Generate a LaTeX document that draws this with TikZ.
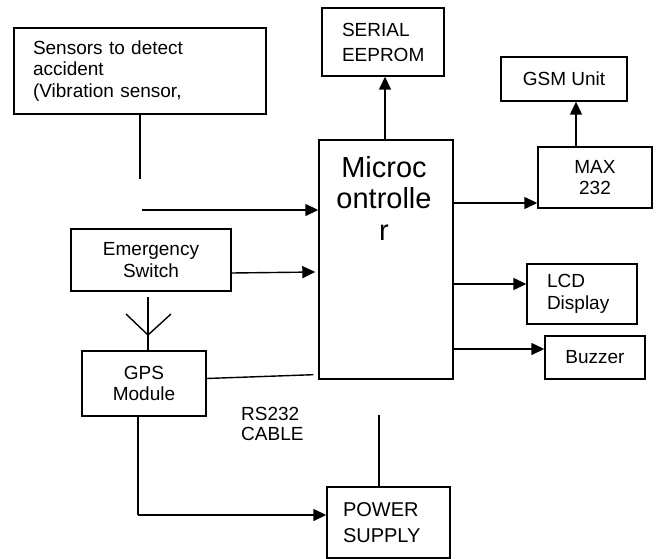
\documentclass[tikz,border=0pt]{standalone}
\usepackage{fontspec}
\setmainfont{Liberation Sans}
\usetikzlibrary{arrows.meta,calc}
\tikzset{
  blk/.style={draw, line width=1.4pt, rectangle, inner sep=0pt, align=center,
    font=\fontsize{19}{21.5}\selectfont},
  wire/.style={line width=1.4pt},
  arr/.style={wire, -{Triangle[length=13pt,width=12pt]}},
  lbl/.style={inner sep=0pt, align=left, font=\fontsize{19}{20}\selectfont}
}
\begin{document}
\begin{tikzpicture}[x=1pt,y=-1pt]
\useasboundingbox (0,0) rectangle (659,559);
% boxes
\node[blk, minimum width=252, minimum height=86, text width=214, align=left] (sens) at (140,71)
  {Sensors to detect\\accident\\(Vibration sensor,};
\node[blk, minimum width=122, minimum height=68, text width=82, align=left,
  font=\fontsize{19}{25}\selectfont] (eep) at (383,42) {SERIAL\\EEPROM};
\node[blk, minimum width=134, minimum height=239] (mc) at (386,259.5) {};
\node[inner sep=0pt, align=center, font=\fontsize{29}{31.5}\selectfont] (mctext) at (384,198)
  {Microc\\ontrolle\\r};
\node[blk, minimum width=126, minimum height=44] (gsm) at (564,79) {GSM Unit};
\node[blk, minimum width=114, minimum height=61] (max) at (595,177.5) {MAX\\232};
\node[blk, minimum width=110, minimum height=60, text width=70, align=left] (lcd) at (582,294)
  {LCD\\Display};
\node[blk, minimum width=100, minimum height=43] (buz) at (595,357.5) {Buzzer};
\node[blk, minimum width=160, minimum height=62] (emg) at (151,260) {Emergency\\Switch};
\node[blk, minimum width=124, minimum height=65] (gps) at (144,383.5) {GPS\\Module};
\node[blk, minimum width=123, minimum height=71, text width=91, align=left,
  font=\fontsize{20}{26}\selectfont] (pwr) at (388.5,522.5) {POWER\\SUPPLY};
\node[lbl, anchor=north west] (rs) at (241,407) {RS232\\CABLE};
% free ends
\coordinate (sensend) at (140,179);
\coordinate (sensin) at (142,210);
\coordinate (pwrend) at (379,415);
\coordinate (anttop) at (148,297);
\coordinate (antl) at (126,314);
\coordinate (antr) at (171,314);
\coordinate (antv) at (148,335);
\coordinate (gpscorner) at (138,515);
% connectors
\draw[wire] (sens.south -| sensend) -- (sensend);
\draw[arr] (sensin) -- (sensin -| mc.west);
\draw[arr] ($(emg.east)+(0,13)$) -- ($(emg.east -| mc.west)+(-3,12)$);
\draw[arr] (385,140) -- (eep.south -| 385,0);
\draw[arr] (max.north -| 576,0) -- (gsm.south -| 576,0);
\draw[arr] (mc.east |- 0,203) -- (max.west |- 0,203);
\draw[arr] (mc.east |- 0,284) -- (lcd.west |- 0,284);
\draw[arr] (mc.east |- 0,349) -- (buz.west |- 0,349);
\draw[wire] ($(gps.east)+(0,-5)$) -- ($(mc.south west)+(-5,-5)$);
\draw[wire] (gps.north -| anttop) -- (anttop);
\draw[wire] (antl) -- (antv) -- (antr);
\draw[wire] (gps.south -| gpscorner) -- (gpscorner);
\draw[arr] (gpscorner) -- (gpscorner -| pwr.west);
\draw[wire] (pwr.north -| pwrend) -- (pwrend);
\end{tikzpicture}
\end{document}
